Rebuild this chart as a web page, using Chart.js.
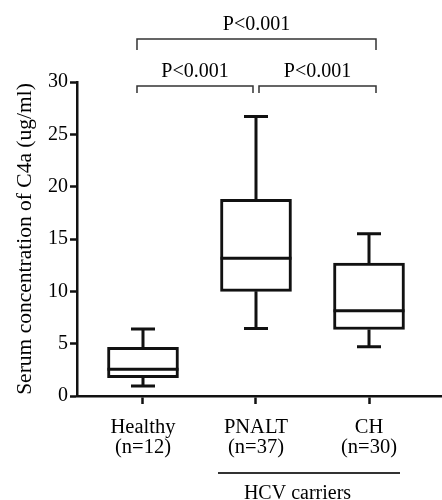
<!DOCTYPE html>
<html>
<head>
    <title>C4a serum concentration</title>
    <script src="https://cdn.jsdelivr.net/npm/chart.js"></script>
    <style>
        body { margin: 0; background: #fff; }
        #wrap { width: 442px; height: 500px; position: relative; }
    </style>
</head>
<body>
    <div id="wrap">
        <canvas id="c4aChart"></canvas>
    </div>
    <script>
        // values (ug/ml)
        const groups = ['Healthy', 'PNALT', 'CH'];
        const groupN = ['(n=12)', '(n=37)', '(n=30)'];
        const whiskerMin = [0.95, 6.45, 4.7];
        const q1 = [1.75, 10.0, 6.35];
        const median = [2.55, 13.15, 8.15];
        const q3 = [4.65, 18.8, 12.7];
        const whiskerMax = [6.4, 26.7, 15.5];
        const yTicks = [0, 5, 10, 15, 20, 25, 30];
        // pairwise comparisons: [group a, group b, text]
        const comparisons = [[0, 1, 'P<0.001'], [1, 2, 'P<0.001'], [0, 2, 'P<0.001']];
        const subgroupLabel = 'HCV carriers';

        const FONT = 'Liberation Serif';

        const boxPlugin = {
            id: 'boxExtras',
            afterDatasetsDraw(chart) {
                const ctx = chart.ctx;
                const xs = chart.scales.x, ys = chart.scales.y;
                const half = 35.5, cap = 12;
                ctx.save();
                ctx.strokeStyle = '#111';
                ctx.lineWidth = 3;
                ctx.lineCap = 'butt';
                groups.forEach((g, i) => {
                    const x = xs.getPixelForValue(i + 1);
                    const yMin = ys.getPixelForValue(whiskerMin[i]);
                    const yQ1 = ys.getPixelForValue(q1[i]);
                    const yMed = ys.getPixelForValue(median[i]);
                    const yQ3 = ys.getPixelForValue(q3[i]);
                    const yMax = ys.getPixelForValue(whiskerMax[i]);
                    ctx.beginPath();
                    ctx.moveTo(x, yQ3); ctx.lineTo(x, yMax);
                    ctx.moveTo(x - cap, yMax); ctx.lineTo(x + cap, yMax);
                    ctx.moveTo(x, yQ1); ctx.lineTo(x, yMin);
                    ctx.moveTo(x - cap, yMin); ctx.lineTo(x + cap, yMin);
                    ctx.moveTo(x - half, yMed); ctx.lineTo(x + half, yMed);
                    ctx.stroke();
                });

                // significance brackets
                ctx.lineWidth = 1.5;
                ctx.strokeStyle = '#333';
                ctx.fillStyle = '#000';
                ctx.font = '20px "' + FONT + '"';
                ctx.textAlign = 'center';
                ctx.textBaseline = 'middle';
                const top = chart.chartArea.top;
                comparisons.forEach(([a, b, txt]) => {
                    const wide = (b - a) > 1;
                    const xa = xs.getPixelForValue(a + 1) + (a === 0 ? -6 : 3);
                    const xb = xs.getPixelForValue(b + 1) + (b === 2 ? 7 : -3);
                    const yb = wide ? top - 43 : top + 4;
                    const tip = wide ? 11 : 7;
                    ctx.beginPath();
                    ctx.moveTo(xa, yb + tip); ctx.lineTo(xa, yb); ctx.lineTo(xb, yb); ctx.lineTo(xb, yb + tip);
                    ctx.stroke();
                    ctx.fillText(txt, (xa + xb) / 2, yb - 14);
                });

                // HCV carriers underline
                const x2 = xs.getPixelForValue(2), x3 = xs.getPixelForValue(3);
                ctx.lineWidth = 2;
                ctx.beginPath();
                ctx.moveTo(x2 - 38, 473); ctx.lineTo(x3 + 31, 473);
                ctx.stroke();
                ctx.textBaseline = 'top';
                ctx.fillText(subgroupLabel, (x2 + x3) / 2 - 15, 484);
                ctx.restore();
            }
        };

        const ctx = document.getElementById('c4aChart').getContext('2d');
        new Chart(ctx, {
            type: 'bar',
            data: {
                datasets: [{
                    data: groups.map((g, i) => ({ x: i + 1, y: [q1[i], q3[i]] })),
                    backgroundColor: '#fff',
                    borderColor: '#111',
                    borderWidth: 3,
                    borderSkipped: false,
                    barThickness: 71
                }]
            },
            options: {
                responsive: true,
                maintainAspectRatio: false,
                animation: false,
                layout: { padding: { top: 82, right: 0, left: 0, bottom: 0 } },
                plugins: { legend: { display: false }, tooltip: { enabled: false } },
                scales: {
                    x: {
                        type: 'linear',
                        min: 0.416,
                        max: 3.646,
                        offset: false,
                        afterBuildTicks: s => { s.ticks = groups.map((g, i) => ({ value: i + 1 })); },
                        afterFit: s => { s.height = 104; },
                        ticks: {
                            callback: v => [groups[v - 1], groupN[v - 1]],
                            color: '#000',
                            padding: 13,
                            maxRotation: 0,
                            font: { family: FONT, size: 20.5, lineHeight: 1.0 }
                        },
                        grid: { offset: false, drawOnChartArea: false, tickLength: 8, tickColor: '#111', tickWidth: 2.5 },
                        border: { color: '#111', width: 2.5 }
                    },
                    y: {
                        min: 0,
                        max: 30,
                        afterBuildTicks: s => { s.ticks = yTicks.map(v => ({ value: v })); },
                        afterFit: s => { s.width = 77; },
                        ticks: {
                            color: '#000',
                            padding: 2,
                            font: { family: FONT, size: 20 }
                        },
                        grid: { drawOnChartArea: false, tickLength: 7, tickColor: '#111', tickWidth: 2.5 },
                        border: { color: '#111', width: 2.5 },
                        title: {
                            display: true,
                            text: 'Serum concentration of C4a (ug/ml)',
                            color: '#000',
                            padding: { top: 12 },
                            font: { family: FONT, size: 21.5, lineHeight: 1.2 }
                        }
                    }
                }
            },
            plugins: [boxPlugin]
        });
    </script>
</body>
</html>
